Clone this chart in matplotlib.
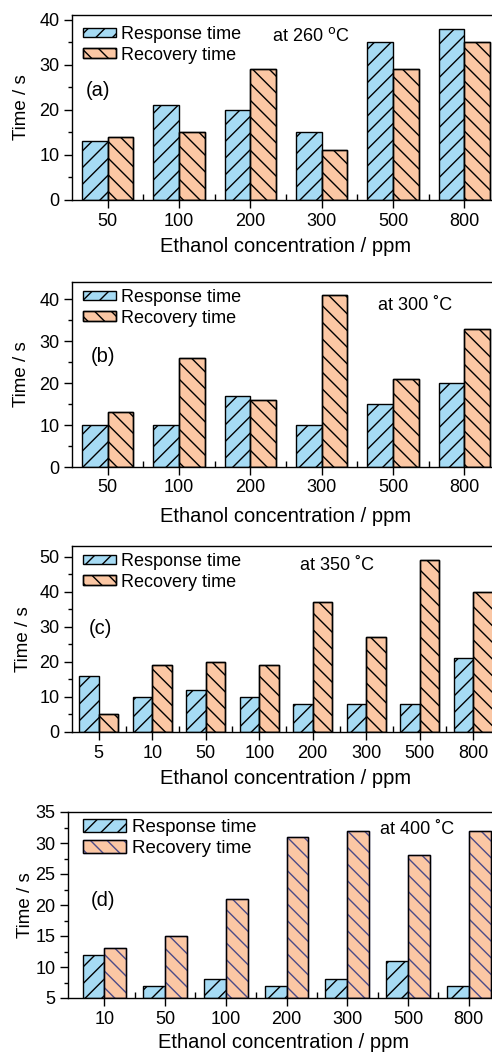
import numpy as np
import matplotlib
matplotlib.use("Agg")
import matplotlib.pyplot as plt
from matplotlib.ticker import MultipleLocator, FixedLocator
from matplotlib.patches import Patch
from matplotlib.legend_handler import HandlerTuple

plt.rcParams['font.family'] = ['Liberation Sans', 'DejaVu Sans']
plt.rcParams['hatch.linewidth'] = 1.0

# --- data ---
conc_a = ['50', '100', '200', '300', '500', '800']
resp_a = [13, 21, 20, 15, 35, 38]
reco_a = [14, 15, 29, 11, 29, 35]

conc_b = ['50', '100', '200', '300', '500', '800']
resp_b = [10, 10, 17, 10, 15, 20]
reco_b = [13, 26, 16, 41, 21, 33]

conc_c = ['5', '10', '50', '100', '200', '300', '500', '800']
resp_c = [16, 10, 12, 10, 8, 8, 8, 21]
reco_c = [5, 19, 20, 19, 37, 27, 49, 40]

conc_d = ['10', '50', '100', '200', '300', '500', '800']
resp_d = [12, 7, 8, 7, 8, 11, 7]
reco_d = [13, 15, 21, 31, 32, 28, 32]

BLUE = '#a6dbf4'
ORANGE = '#fbc7a4'
W, H = 492, 1057

fig = plt.figure(figsize=(W / 100, H / 100), dpi=100)


def fx(px):
    return px / W


def fy(py):
    return 1 - py / H


def add_axes_px(left, top, right, bottom):
    ax = fig.add_axes([fx(left), fy(bottom), (right - left) / W, (bottom - top) / H])
    ax.px_box = (left, top, right, bottom)
    return ax


def panel(ax, conc, resp, reco, ylim, ymaj, ymin, xlim, temp, tag, temp_xy, tag_xy,
          leg_xy, xlab_y, ylab_x, hatch_col='black', leg_handle=1.8, leg_hh=0.45,
          leg_size=13):
    left, top, right, bottom = ax.px_box
    x = np.arange(len(conc))
    w = 0.36
    base = ylim[0]
    ax.bar(x - w / 2, np.array(resp) - base, w, bottom=base, color=BLUE,
           edgecolor='black', hatch='//', linewidth=1.0)
    ax.bar(x + w / 2, np.array(reco) - base, w, bottom=base, color=ORANGE,
           edgecolor=hatch_col, hatch='\\\\', linewidth=1.0)
    ax.bar(x + w / 2, np.array(reco) - base, w, bottom=base, fill=False,
           edgecolor='black', linewidth=1.0)
    ax.set_xlim(*xlim)
    ax.set_ylim(*ylim)
    ax.set_xticks(x)
    ax.set_xticklabels(conc)
    ax.xaxis.set_minor_locator(FixedLocator(x[:-1] + 0.5))
    ax.yaxis.set_major_locator(MultipleLocator(ymaj))
    ax.yaxis.set_minor_locator(MultipleLocator(ymin))
    ax.tick_params(axis='both', which='major', direction='out', length=6, width=1,
                   labelsize=13, pad=3)
    ax.tick_params(axis='y', which='minor', direction='out', length=3, width=1)
    ax.tick_params(axis='x', which='minor', direction='in', length=4, width=1)
    for s in ax.spines.values():
        s.set_linewidth(1.0)
    ax.set_xlabel('Ethanol concentration / ppm', fontsize=14.5, va='center')
    ax.set_ylabel('Time / s', fontsize=13.5, va='center')
    ax.xaxis.set_label_coords(fx((left + right) / 2), fy(xlab_y), transform=fig.transFigure)
    ax.yaxis.set_label_coords(fx(ylab_x), fy((top + bottom) / 2), transform=fig.transFigure)

    h_resp = Patch(facecolor=BLUE, edgecolor='black', hatch='//', linewidth=1.0)
    h_reco = (Patch(facecolor=ORANGE, edgecolor=hatch_col, hatch='\\\\', linewidth=1.0),
              Patch(fill=False, edgecolor='black', linewidth=1.0))
    ax.legend([h_resp, h_reco], ['Response time', 'Recovery time'],
              handler_map={tuple: HandlerTuple(ndivide=1, pad=0)},
              loc='upper left', bbox_to_anchor=(fx(leg_xy[0]), fy(leg_xy[1])),
              bbox_transform=fig.transFigure, frameon=False, fontsize=leg_size,
              handlelength=leg_handle, handleheight=leg_hh, handletextpad=0.3,
              labelspacing=0.2, borderaxespad=0, borderpad=0)
    fig.text(fx(temp_xy[0]), fy(temp_xy[1]), temp, fontsize=13, va='center')
    fig.text(fx(tag_xy[0]), fy(tag_xy[1]), tag, fontsize=14.5, va='center')


ax_a = add_axes_px(72, 15, 500, 200)
panel(ax_a, conc_a, resp_a, reco_a, (0, 41.1), 10, 5, (-0.5, 5.5),
      'at 260 $^{\\mathrm{o}}$C', '(a)', (272, 36), (86, 91),
      leg_xy=(83, 26), xlab_y=246, ylab_x=21)

ax_b = add_axes_px(72, 282, 500, 467)
panel(ax_b, conc_b, resp_b, reco_b, (0, 44.1), 10, 5, (-0.5, 5.5),
      'at 300 \u02daC', '(b)', (378, 305), (91, 357),
      leg_xy=(83, 289), xlab_y=517, ylab_x=22)

ax_c = add_axes_px(72, 546, 500, 732)
panel(ax_c, conc_c, resp_c, reco_c, (0, 53), 10, 5, (-0.5, 7.5),
      'at 350 \u02daC', '(c)', (300, 565), (89, 628),
      leg_xy=(83, 553), xlab_y=779, ylab_x=24)

ax_d = add_axes_px(68, 812, 499, 998)
panel(ax_d, conc_d, resp_d, reco_d, (5, 35), 5, 2.5, (-0.6, 6.5),
      'at 400 \u02daC', '(d)', (380, 829), (91, 900),
      leg_xy=(83, 819), xlab_y=1043, ylab_x=25, hatch_col='#4b4a88',
      leg_handle=2.3, leg_hh=0.7, leg_size=13.5)

fig.savefig('out.png', dpi=100)
